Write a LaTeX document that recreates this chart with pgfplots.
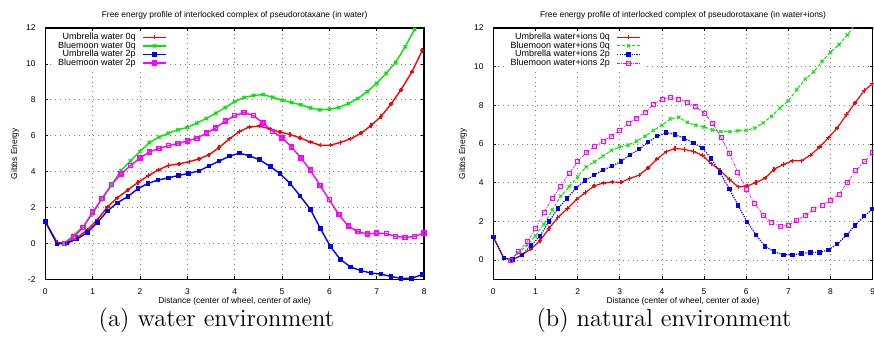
\documentclass[border=0pt]{standalone}
\usepackage{fontspec}
\usepackage{pgfplots}
\pgfplotsset{compat=1.18}
\newfontfamily\gp{Liberation Sans}
\definecolor{gpred}{RGB}{255,0,0}
\definecolor{gpgreen}{RGB}{0,232,0}
\definecolor{gpblue}{RGB}{0,0,255}
\definecolor{gpmag}{RGB}{255,0,255}
\pgfplotsset{
  gpaxis/.style={
    scale only axis, width=189.4pt, height=125.65pt,
    font=\gp\fontsize{4.2}{5}\selectfont,
    /pgf/number format/assume math mode=true,
    grid=major, grid style={black!50, dotted, line width=0.35pt},
    axis line style={line width=0.65pt},
    major tick length=1.5pt, tick style={black, line width=0.4pt},
    xticklabel style={yshift=-1.0pt},
    yticklabel style={xshift=-1.4pt},
    every axis title shift=0pt,
    title style={at={(axis description cs:0.5,1)}, anchor=center, yshift=6.5pt},
    xlabel style={at={(axis description cs:0.5,0)}, anchor=center, yshift=-11.2pt},
    ylabel style={at={(axis description cs:-0.08,0.5)}, anchor=center},
    xlabel={Distance (center of wheel, center of axle)},
    ylabel={Gibbs Energy},
    legend cell align=right, legend plot pos=right,
    legend style={anchor=north east, draw=none, fill=white, inner sep=1pt,
      /tikz/column sep=3pt, row sep=0pt,
      nodes={inner sep=0.35pt, text height=2.9pt, text depth=0.7pt},
      font=\gp\fontsize{4.5}{5}\selectfont},
    legend image code/.code={\draw[mark repeat=2,mark phase=2,##1] plot coordinates {(0pt,0pt)(5.75pt,0pt)(11.5pt,0pt)};},
  },
}
\begin{document}
\begin{tikzpicture}
\begin{axis}[gpaxis, at={(22.65pt,29.35pt)}, anchor=south west,
  xmin=0, xmax=8, ymin=-2, ymax=12, xtick={0,1,...,8}, ytick={-2,0,2,...,12},
  title={Free energy profile of interlocked complex of pseudorotaxane (in water)},
  legend style={at={(axis description cs:0.327,0.99)}}]
\addplot[gpred, line width=0.7pt, mark=+, mark size=1.1pt] coordinates {
(0,1.22) (0.25,0.05) (0.46,0.03) (0.67,0.32) (0.89,0.76) (1.10,1.32) (1.31,2.02) (1.52,2.54) (1.75,2.99) (1.96,3.40)
(2.18,3.78) (2.39,4.10) (2.60,4.34) (2.82,4.43) (3.04,4.55) (3.25,4.71) (3.46,4.94) (3.67,5.34) (3.89,5.83) (4.10,6.23)
(4.31,6.49) (4.52,6.53) (4.75,6.38) (4.96,6.20) (5.17,6.07) (5.38,5.88) (5.60,5.64) (5.81,5.47) (6.02,5.47) (6.23,5.62)
(6.45,5.83) (6.67,6.14) (6.88,6.57) (7.09,7.07) (7.30,7.76) (7.51,8.55) (7.74,9.54) (7.96,10.74)};
\addlegendentry{Umbrella water 0q}
\addplot[gpgreen, line width=0.7pt, mark=x, mark size=1.1pt] coordinates {
(0.4,0.02) (0.6,0.45) (0.8,0.95) (1.0,1.65) (1.2,2.52) (1.4,3.27) (1.6,4.06) (1.8,4.60) (2.0,5.12) (2.2,5.62)
(2.4,5.92) (2.6,6.14) (2.8,6.33) (3.0,6.46) (3.2,6.70) (3.4,6.96) (3.6,7.25) (3.8,7.57) (4.0,7.90) (4.2,8.13)
(4.4,8.24) (4.6,8.29) (4.8,8.14) (5.0,7.98) (5.2,7.85) (5.4,7.72) (5.6,7.55) (5.8,7.44) (6.0,7.48) (6.2,7.57)
(6.4,7.79) (6.6,8.07) (6.8,8.46) (7.0,8.92) (7.2,9.48) (7.4,10.09) (7.6,10.95) (7.8,11.93) (8.0,12.95)};
\addlegendentry{Bluemoon water 0q}
\addplot[gpblue, line width=0.7pt, mark=square*, mark size=0.8pt] coordinates {
(0,1.22) (0.25,-0.04) (0.46,0.02) (0.67,0.24) (0.89,0.61) (1.10,1.17) (1.31,1.80) (1.52,2.26) (1.75,2.62) (1.96,3.06)
(2.17,3.34) (2.38,3.53) (2.60,3.65) (2.81,3.78) (3.02,3.90) (3.25,4.04) (3.46,4.32) (3.67,4.58) (3.89,4.86) (4.10,5.03)
(4.31,4.88) (4.52,4.66) (4.75,4.29) (4.96,3.88) (5.17,3.34) (5.38,2.65) (5.60,1.89) (5.81,0.83) (6.02,-0.17) (6.23,-0.89)
(6.45,-1.32) (6.67,-1.52) (6.88,-1.65) (7.09,-1.71) (7.30,-1.84) (7.51,-1.95) (7.74,-1.95) (7.96,-1.73)};
\addlegendentry{Umbrella water 2p}
\addplot[gpmag, line width=0.7pt, mark=square, mark size=1pt] coordinates {
(0.4,-0.02) (0.6,0.35) (0.8,0.90) (1.0,1.74) (1.2,2.50) (1.4,3.27) (1.6,3.86) (1.8,4.34) (2.0,4.75) (2.2,5.10)
(2.4,5.29) (2.6,5.44) (2.8,5.57) (3.0,5.70) (3.2,5.86) (3.4,6.14) (3.6,6.44) (3.8,6.81) (4.0,7.12) (4.2,7.29)
(4.4,7.12) (4.6,6.70) (4.8,6.25) (5.0,5.88) (5.2,5.38) (5.4,4.75) (5.6,4.08) (5.8,3.23) (6.0,2.43) (6.2,1.60)
(6.4,0.96) (6.6,0.65) (6.8,0.52) (7.0,0.58) (7.2,0.54) (7.4,0.39) (7.6,0.33) (7.8,0.39) (8.0,0.58)};
\addlegendentry{Bluemoon water 2p}
\end{axis}
\begin{axis}[gpaxis, at={(246.65pt,29.35pt)}, anchor=south west, width=189.7pt,
  xmin=0, xmax=9, ymin=-1, ymax=12, xtick={0,1,...,9}, ytick={0,2,...,12},
  title={Free energy profile of interlocked complex of pseudorotaxane (in water+ions)},
  legend style={at={(axis description cs:0.395,0.99)}}]
\addplot[gpred, line width=0.6pt, mark=+, mark size=1.1pt] coordinates {
(0,1.18) (0.25,0.09) (0.47,0.02) (0.68,0.26) (0.89,0.57) (1.11,1.00) (1.32,1.63) (1.53,2.20) (1.76,2.66) (1.98,3.14)
(2.18,3.48) (2.39,3.83) (2.61,3.98) (2.82,4.03) (3.03,4.02) (3.24,4.22) (3.46,4.39) (3.67,4.76) (3.88,5.22) (4.10,5.60)
(4.31,5.77) (4.53,5.72) (4.75,5.61) (4.96,5.42) (5.17,4.98) (5.38,4.64) (5.60,4.17) (5.81,3.78) (6.02,3.83) (6.23,4.00)
(6.45,4.24) (6.66,4.69) (6.88,4.94) (7.10,5.13) (7.31,5.13) (7.52,5.42) (7.74,5.84) (7.95,6.32) (8.16,6.83) (8.38,7.52)
(8.58,8.12) (8.80,8.77) (9.00,9.12)};
\addlegendentry{Umbrella water+ions 0q}
\addplot[gpgreen, line width=0.5pt, dash pattern=on 1.6pt off 0.9pt, mark=x, mark size=1.1pt, mark options={solid}] coordinates {
(0.4,0.02) (0.6,0.36) (0.8,0.77) (1.0,1.25) (1.2,1.85) (1.4,2.59) (1.6,3.31) (1.8,3.79) (2.0,4.31) (2.2,4.81)
(2.4,5.08) (2.6,5.37) (2.8,5.67) (3.0,5.85) (3.2,5.94) (3.4,6.15) (3.6,6.40) (3.8,6.70) (4.0,6.97) (4.2,7.30)
(4.4,7.38) (4.6,7.12) (4.8,6.97) (5.0,6.88) (5.2,6.73) (5.4,6.64) (5.6,6.64) (5.8,6.68) (6.0,6.71) (6.2,6.82)
(6.4,7.09) (6.6,7.43) (6.8,7.86) (7.0,8.24) (7.2,8.81) (7.4,9.36) (7.6,9.73) (7.8,10.28) (8.0,10.75) (8.2,11.14)
(8.4,11.64) (8.6,12.25) (8.8,12.80)};
\addlegendentry{Bluemoon water+ions 0q}
\addplot[gpblue, line width=0.6pt, dash pattern=on 0.6pt off 0.6pt, mark=square*, mark size=0.8pt, mark options={solid}] coordinates {
(0,1.18) (0.25,0.09) (0.46,0.02) (0.68,0.26) (0.89,0.74) (1.11,1.25) (1.32,1.99) (1.53,2.66) (1.75,3.19) (1.96,3.71)
(2.18,4.12) (2.39,4.39) (2.60,4.65) (2.82,4.86) (3.03,5.10) (3.24,5.44) (3.46,5.73) (3.67,6.09) (3.88,6.40) (4.10,6.59)
(4.31,6.49) (4.53,6.28) (4.75,6.06) (4.96,5.79) (5.17,5.25) (5.38,4.52) (5.60,3.67) (5.81,2.82) (6.02,1.97) (6.23,1.30)
(6.45,0.70) (6.66,0.43) (6.88,0.27) (7.10,0.27) (7.31,0.33) (7.52,0.39) (7.74,0.38) (7.95,0.53) (8.16,0.82) (8.38,1.29)
(8.58,1.79) (8.80,2.28) (9.00,2.63)};
\addlegendentry{Umbrella water+ions 2p}
\addplot[gpmag, line width=0.35pt, dash pattern=on 1.4pt off 0.6pt on 0.4pt off 0.6pt, mark=square, mark size=1pt, mark options={solid}] coordinates {
(0.4,0.00) (0.6,0.43) (0.8,0.94) (1.0,1.61) (1.2,2.45) (1.4,3.18) (1.6,3.83) (1.8,4.48) (2.0,5.08) (2.2,5.55)
(2.4,5.89) (2.6,6.15) (2.8,6.40) (3.0,6.70) (3.2,7.06) (3.4,7.35) (3.6,7.64) (3.8,8.05) (4.0,8.33) (4.2,8.41)
(4.4,8.33) (4.6,8.15) (4.8,7.95) (5.0,7.60) (5.2,7.09) (5.4,6.35) (5.6,5.51) (5.8,4.55) (6.0,3.64) (6.2,2.94)
(6.4,2.32) (6.6,1.94) (6.8,1.73) (7.0,1.79) (7.2,2.04) (7.4,2.32) (7.6,2.61) (7.8,2.85) (8.0,3.07) (8.2,3.40)
(8.4,4.00) (8.6,4.62) (8.8,5.08) (9.0,5.55)};
\addlegendentry{Bluemoon water+ions 2p}
\end{axis}
\node[anchor=base, font=\fontsize{12.3}{14}\selectfont, inner sep=0pt] at (108.25pt,5.65pt) {(a) water environment};
\node[anchor=base, font=\fontsize{12.3}{14}\selectfont, inner sep=0pt] at (332pt,5.65pt) {(b) natural environment};
\pgfresetboundingbox
\path (0,0) rectangle (437pt,169pt);
\end{tikzpicture}
\end{document}
